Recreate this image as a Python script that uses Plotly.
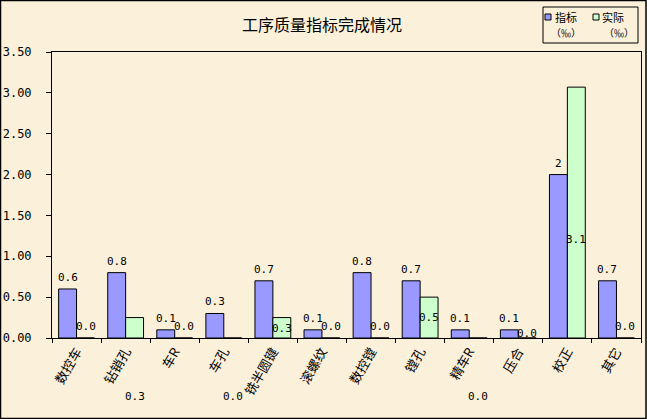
import plotly.graph_objects as go

# data
categories = ["数控车", "钻销孔", "车R", "车孔", "铣半圆键", "滚螺纹",
              "数控镗", "镗孔", "精车R", "压合", "校正", "其它"]
target = [0.6, 0.8, 0.1, 0.3, 0.7, 0.1, 0.8, 0.7, 0.1, 0.1, 2.0, 0.7]
actual = [0.0, 0.25, 0.0, 0.0, 0.25, 0.0, 0.0, 0.5, 0.0, 0.0, 3.07, 0.0]
target_text = ["0.6", "0.8", "0.1", "0.3", "0.7", "0.1", "0.8", "0.7", "0.1", "0.1", "2", "0.7"]
actual_text = ["0.0", "0.3", "0.0", "0.0", "0.3", "0.0", "0.0", "0.5", "0.0", "0.0", "3.1", "0.0"]
series_names = ["指标", "实际"]
y_ticks = [0, 0.5, 1.0, 1.5, 2.0, 2.5, 3.0, 3.5]

# where Excel happened to drop the labels of the second series (data units, <0 = below the axis)
actual_label_y = [0.135, -0.82, 0.135, -0.82, 0.12, 0.135, 0.135, 0.245, -0.82, 0.06, 1.2, 0.135]

BG = "#FBF0DA"
FONT = "Noto Sans CJK SC"
NUM_FONT = "DejaVu Sans Mono"
COLORS = ["#9999FF", "#CCFFCC"]

# plot area in pixels
L, R, T, B = 52, 641, 52, 338
W, H = R - L, B - T


def px(x):
    return (x - L) / W


def py(y):
    return (B - y) / H


fig = go.Figure()
fig.add_trace(go.Bar(x=categories, y=target, name=series_names[0],
                     marker=dict(color=COLORS[0], line=dict(color="black", width=1))))
fig.add_trace(go.Bar(x=categories, y=actual, name=series_names[1],
                     marker=dict(color=COLORS[1], line=dict(color="black", width=1))))

# value labels
for i, c in enumerate(categories):
    fig.add_annotation(x=c, y=target[i], text=target_text[i], showarrow=False,
                       xshift=-9, yanchor="bottom", yshift=3,
                       font=dict(family=NUM_FONT, size=11, color="black"))
    ly = actual_label_y[i]
    if ly >= 0:
        fig.add_annotation(x=c, y=ly, text=actual_text[i], showarrow=False, xshift=9,
                           font=dict(family=NUM_FONT, size=11, color="black"))
    else:
        fig.add_annotation(x=c, yref="paper", y=ly / 3.5, text=actual_text[i],
                           showarrow=False, xshift=9,
                           font=dict(family=NUM_FONT, size=11, color="black"))

# outer chart border
fig.add_shape(type="rect", xref="paper", yref="paper",
              x0=px(0.5), x1=px(646), y0=py(418.5), y1=py(0.5),
              line=dict(color="black", width=1.5), layer="below")

# legend box, drawn by hand to keep Excel's compact layout
fig.add_shape(type="rect", xref="paper", yref="paper",
              x0=px(543), x1=px(638), y0=py(43), y1=py(7),
              line=dict(color="black", width=1), fillcolor=BG)
for k, (sx, tx, ux) in enumerate([(545, 553, 566), (593, 600, 619)]):
    fig.add_shape(type="rect", xref="paper", yref="paper",
                  x0=px(sx), x1=px(sx + 6), y0=py(20), y1=py(14),
                  line=dict(color="black", width=1), fillcolor=COLORS[k])
    fig.add_annotation(xref="paper", yref="paper", x=px(tx), y=py(17), xanchor="left",
                       yanchor="middle", text=series_names[k], showarrow=False,
                       font=dict(size=11))
    fig.add_annotation(xref="paper", yref="paper", x=px(ux), y=py(33), xanchor="center",
                       yanchor="middle", text="（‰）", showarrow=False, font=dict(size=10))

fig.update_layout(
    width=647, height=419,
    margin=dict(l=L, r=647 - R, t=T, b=419 - B),
    paper_bgcolor=BG, plot_bgcolor=BG,
    font=dict(family=FONT, size=12, color="black"),
    title=dict(text="工序质量指标完成情况", x=322 / 647, xanchor="center",
               y=1 - 25 / 419, yanchor="middle", font=dict(size=16)),
    barmode="group", bargap=0.27, bargroupgap=0,
    showlegend=False,
)
fig.update_xaxes(showline=True, linecolor="black", mirror=True, linewidth=1,
                 ticks="outside", tickson="boundaries", ticklen=4, tickcolor="black",
                 tickangle=-60, tickfont=dict(size=13), showgrid=False, automargin=False)
fig.update_yaxes(range=[0, 3.5], tickvals=y_ticks, tickformat=".2f",
                 showline=True, linecolor="black", mirror=True, linewidth=1,
                 ticks="outside", ticklen=5, tickcolor="black", showgrid=False,
                 zeroline=False, automargin=False, ticklabelstandoff=12,
                 tickfont=dict(family=NUM_FONT, size=12))

# the page body has a default 8px margin; drop it so the chart fills the window
fig.write_html("out.html", config={"displayModeBar": False},
               post_script="document.body.style.margin='0';")
